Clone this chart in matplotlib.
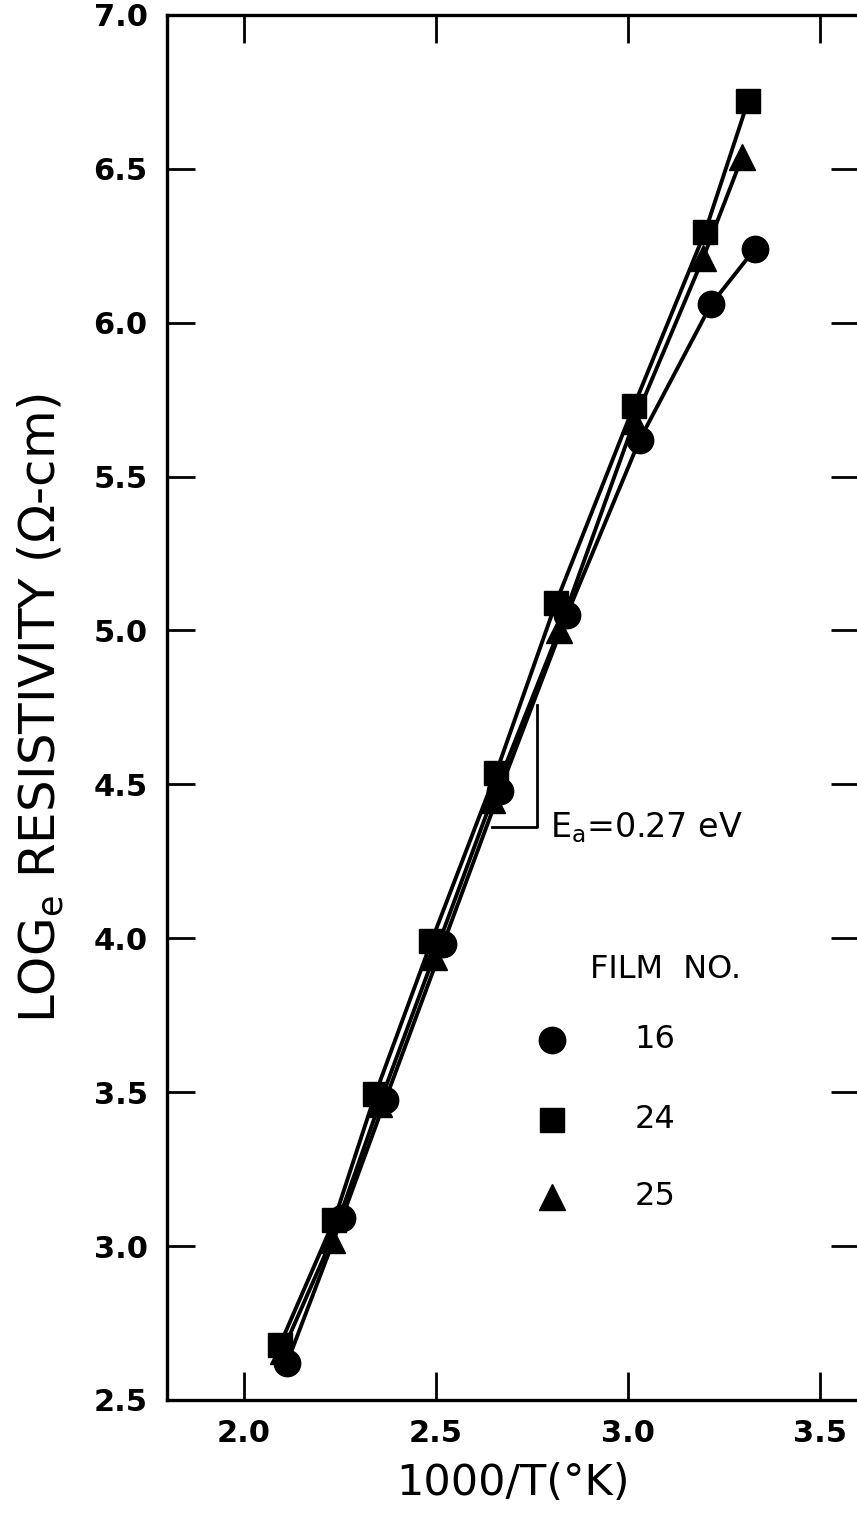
import numpy as np
import matplotlib
matplotlib.use("Agg")
import matplotlib.pyplot as plt

# film 16 (circles)
x16 = [2.112, 2.255, 2.368, 2.518, 2.666, 2.84, 3.03, 3.216, 3.33]
y16 = [2.62, 3.09, 3.475, 3.98, 4.48, 5.05, 5.62, 6.06, 6.24]
# film 24 (squares)
x24 = [2.094, 2.235, 2.342, 2.488, 2.656, 2.812, 3.015, 3.20, 3.312]
y24 = [2.68, 3.085, 3.494, 3.99, 4.537, 5.09, 5.73, 6.295, 6.72]
# film 25 (triangles)
x25 = [2.101, 2.228, 2.352, 2.494, 2.645, 2.82, 3.016, 3.195, 3.297]
y25 = [2.66, 3.02, 3.46, 3.94, 4.45, 5.00, 5.68, 6.21, 6.54]

films = ["16", "24", "25"]
markers = ["o", "s", "^"]

# slope triangle for activation energy
slope_x = [2.646, 2.763, 2.763]
slope_y = [4.362, 4.362, 4.758]

xticks = [2.0, 2.5, 3.0, 3.5]
yticks = [2.5, 3.0, 3.5, 4.0, 4.5, 5.0, 5.5, 6.0, 6.5, 7.0]

plt.rcParams['font.family'] = ['DejaVu Sans']

fig = plt.figure(figsize=(8.57, 15.24), dpi=100)
ax = fig.add_axes([0.195, 0.0814, 0.807, 0.9088])

for xs, ys, m in zip([x16, x24, x25], [y16, y24, y25], markers):
    ms = 17 if m == "s" else 19
    ax.plot(xs, ys, color="black", lw=2.8, marker=m, ms=ms, zorder=3)

ax.plot(slope_x, slope_y, color="black", lw=2)
ax.text(2.797, 4.36, r"$\mathregular{E_a}$=0.27 eV", fontsize=24, va="center", ha="left")

# legend drawn by hand
ax.text(2.90, 3.90, "FILM  NO.", fontsize=23, va="center", ha="left")
for lab, m, yy in zip(films, markers, [3.67, 3.41, 3.16]):
    ms = 17 if m == "s" else 19
    ax.plot([2.802], [yy], marker=m, ms=ms, color="black", ls="none")
    ax.text(3.07, yy, lab, fontsize=23, va="center", ha="center")

ax.set_xlim(1.8, 3.6)
ax.set_ylim(2.5, 7.0)
ax.set_xticks(xticks)
ax.set_yticks(yticks)
ax.set_xticklabels(["%.1f" % v for v in xticks], fontweight="bold")
ax.set_yticklabels(["%.1f" % v for v in yticks], fontweight="bold")
ax.tick_params(direction="in", length=20, width=2, labelsize=22, pad=14,
               top=True, right=True)
for s in ax.spines.values():
    s.set_linewidth(2.4)

ax.set_xlabel("1000/T(°K)", fontsize=31, labelpad=10)
ax.set_ylabel(r"LOG$_\mathregular{e}$ RESISTIVITY ($\Omega$-cm)", fontsize=36, labelpad=20)

fig.savefig("out.png", dpi=100)
